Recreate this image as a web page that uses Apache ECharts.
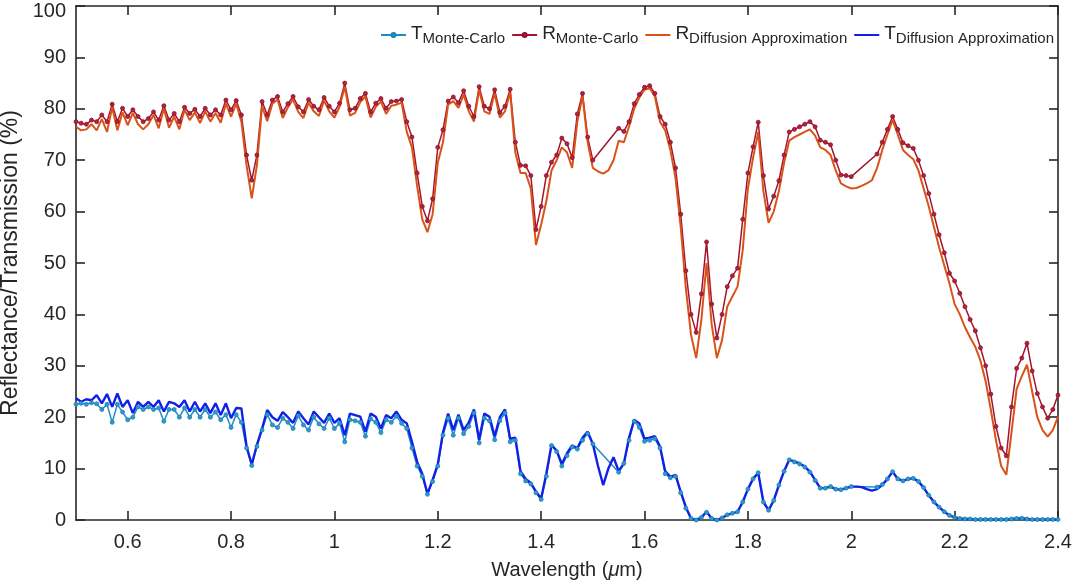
<!DOCTYPE html>
<html>
<head>
<meta charset="utf-8">
<script src="https://cdn.jsdelivr.net/npm/echarts@6/dist/echarts.min.js"></script>
<style>
html,body{margin:0;padding:0;background:#fff;}
#chart{width:1078px;height:588px;}
</style>
</head>
<body>
<div id="chart"></div>
<script>
// Wavelength grid (µm)
const wavelength = [
0.50,0.51,0.52,0.53,0.54,0.55,0.56,0.57,0.58,0.59,
0.60,0.61,0.62,0.63,0.64,0.65,0.66,0.67,0.68,0.69,
0.70,0.71,0.72,0.73,0.74,0.75,0.76,0.77,0.78,0.79,
0.80,0.81,0.82,0.83,0.84,0.85,0.86,0.87,0.88,0.89,
0.90,0.91,0.92,0.93,0.94,0.95,0.96,0.97,0.98,0.99,
1.00,1.01,1.02,1.03,1.04,1.05,1.06,1.07,1.08,1.09,
1.10,1.11,1.12,1.13,1.14,1.15,1.16,1.17,1.18,1.19,
1.20,1.21,1.22,1.23,1.24,1.25,1.26,1.27,1.28,1.29,
1.30,1.31,1.32,1.33,1.34,1.35,1.36,1.37,1.38,1.39,
1.40,1.41,1.42,1.43,1.44,1.45,1.46,1.47,1.48,1.49,
1.50,1.51,1.52,1.53,1.54,1.55,1.56,1.57,1.58,1.59,
1.60,1.61,1.62,1.63,1.64,1.65,1.66,1.67,1.68,1.69,
1.70,1.71,1.72,1.73,1.74,1.75,1.76,1.77,1.78,1.79,
1.80,1.81,1.82,1.83,1.84,1.85,1.86,1.87,1.88,1.89,
1.90,1.91,1.92,1.93,1.94,1.95,1.96,1.97,1.98,1.99,
2.00,2.01,2.02,2.03,2.04,2.05,2.06,2.07,2.08,2.09,
2.10,2.11,2.12,2.13,2.14,2.15,2.16,2.17,2.18,2.19,
2.20,2.21,2.22,2.23,2.24,2.25,2.26,2.27,2.28,2.29,
2.30,2.31,2.32,2.33,2.34,2.35,2.36,2.37,2.38,2.39,
2.40];

// Transmission, Monte-Carlo (%)
const tMonteCarlo = [
22.5,22.7,22.5,22.8,22.6,21.5,22.5,19.0,22.5,21.0,
19.5,20.0,22.0,21.5,22.0,21.5,21.8,19.2,21.5,21.5,
20.0,21.8,20.0,21.5,20.0,21.5,20.0,21.0,19.5,20.5,
18.0,20.5,19.0,14.0,10.6,14.3,17.5,20.5,18.5,18.0,
19.8,19.0,17.8,20.3,18.5,17.5,20.0,18.7,17.8,19.8,
17.8,18.8,15.2,19.5,19.3,19.0,16.3,19.7,19.0,17.0,
19.5,19.0,20.2,18.8,17.8,14.0,10.5,8.5,5.0,7.5,
10.5,16.5,19.8,16.5,19.8,16.8,18.2,20.8,15.0,19.8,
19.3,15.6,19.3,20.8,15.2,15.5,9.0,7.6,7.0,5.3,
4.0,8.5,14.5,13.3,10.5,12.5,14.2,13.8,15.5,16.8,
14.8,null,null,null,null,9.3,11.0,15.5,19.2,18.0,
15.3,15.5,15.8,14.0,9.0,8.2,8.5,5.3,2.3,0.3,
0.0,0.5,1.5,0.3,0.0,0.4,1.0,1.3,1.6,3.5,
6.0,8.0,9.2,3.5,1.9,3.8,6.8,9.5,11.7,11.3,
10.9,10.3,9.3,7.7,6.2,6.2,6.5,6.0,5.9,6.2,
6.5,null,null,null,null,6.4,6.9,8.0,9.4,8.0,
7.6,8.0,8.1,7.5,6.3,4.8,3.5,2.5,1.6,0.9,
0.5,0.3,0.2,0.2,0.1,0.1,0.1,0.1,0.1,0.1,
0.1,0.2,0.3,0.35,0.2,0.1,0.1,0.1,0.1,0.1,
0.1];

// Reflectance, Monte-Carlo (%)
const rMonteCarlo = [
77.5,77.2,77.0,77.8,77.5,78.8,77.5,80.9,77.5,80.1,
78.5,79.8,78.5,77.5,78.1,79.4,77.8,80.6,77.8,79.1,
77.5,80.3,79.1,79.9,78.5,80.1,78.8,79.8,78.8,81.7,
79.8,81.6,78.8,71.0,66.1,71.0,81.4,78.8,81.7,82.4,
79.4,81.0,82.4,80.4,79.4,81.8,80.5,79.8,82.2,80.5,
79.4,81.1,85.0,79.8,80.1,82.0,83.0,79.4,81.1,82.0,
80.1,81.4,81.5,81.8,77.5,74.5,67.5,61.0,58.2,62.5,
72.5,75.9,81.5,82.3,81.2,83.5,80.5,78.5,84.3,80.5,
80.0,83.7,79.3,80.5,83.8,73.5,69.0,68.9,67.0,56.5,
61.0,67.0,69.6,71.0,74.3,73.2,70.5,79.0,83.0,74.5,
70.0,null,null,null,null,76.2,75.6,77.5,81.0,82.8,
84.2,84.5,83.0,78.5,77.0,73.5,68.5,59.5,48.5,40.0,
36.5,44.0,54.1,42.0,35.4,40.0,45.4,47.5,49.0,58.5,
67.5,72.6,77.4,67.0,60.5,63.0,66.0,71.0,75.5,76.0,
76.5,77.0,77.5,76.5,73.9,73.5,73.0,70.0,67.1,67.0,
66.8,null,null,null,null,71.2,73.5,76.0,78.5,76.0,
73.4,72.8,72.3,70.0,67.0,63.5,59.5,55.5,52.0,48.0,
46.5,44.1,41.5,39.0,36.8,33.5,30.0,24.5,18.2,14.0,
12.5,22.0,29.5,31.5,34.4,29.0,24.6,22.0,19.8,21.5,
24.3];

// Reflectance, diffusion approximation (%)
const rDiffusion = [
76.5,75.8,76.0,77.0,75.8,78.0,75.5,80.3,75.8,79.3,
76.8,79.2,77.0,76.0,77.0,78.8,76.2,80.0,76.3,78.5,
76.0,79.8,77.8,79.3,77.2,79.5,77.5,79.2,77.3,81.0,
78.5,81.0,77.5,69.0,62.6,69.0,80.5,77.6,81.0,81.8,
78.2,80.3,81.8,79.4,78.2,81.2,79.5,78.6,81.6,79.5,
78.3,80.4,84.3,78.7,79.2,81.3,82.4,78.3,80.4,81.4,
79.0,80.6,80.8,81.2,75.5,72.5,65.0,58.5,56.0,59.5,
69.5,73.5,80.8,81.5,80.2,82.8,79.5,77.5,83.7,79.5,
79.0,83.0,78.3,79.5,83.2,71.5,67.5,67.5,64.5,53.5,
57.5,62.0,68.0,70.0,72.5,71.5,68.5,77.5,82.5,73.5,
68.5,67.8,67.4,68.0,70.0,73.8,73.5,76.5,80.0,82.2,
83.7,84.0,82.4,77.5,75.8,72.0,66.5,57.0,45.0,36.0,
31.5,39.0,50.0,38.0,31.5,35.0,41.5,43.5,45.4,52.5,
64.5,70.5,75.5,64.0,57.8,60.0,64.0,69.5,73.8,74.5,
75.0,75.5,76.0,74.8,72.5,72.0,71.0,68.0,65.5,64.9,
64.5,64.6,65.0,65.5,66.1,68.5,72.0,75.0,77.8,75.0,
72.0,71.0,70.2,68.0,64.5,61.0,57.0,53.0,49.5,46.0,
42.0,40.0,37.5,35.5,33.7,31.0,27.0,21.5,15.5,10.5,
8.8,17.0,25.5,28.0,30.2,25.0,20.0,17.5,16.2,17.5,
20.1];

// Transmission, diffusion approximation (%)
const tDiffusion = [
23.7,23.0,23.5,23.3,24.3,22.7,24.5,22.0,24.6,22.0,
23.3,20.8,23.0,22.0,23.0,22.0,23.3,21.1,23.0,22.7,
22.0,23.3,21.1,23.0,21.1,22.7,20.8,22.7,20.4,22.7,
19.8,21.8,21.7,14.3,10.8,14.6,17.8,21.4,20.0,19.3,
21.0,20.0,18.9,21.1,19.8,18.6,21.1,20.0,18.9,20.7,
18.9,19.8,16.5,20.7,20.4,20.1,17.2,20.7,20.1,17.8,
20.4,19.8,21.1,19.5,18.8,15.2,11.3,9.0,5.1,7.8,
10.8,17.0,20.7,17.5,20.5,17.5,19.0,21.5,15.6,20.7,
20.1,16.3,20.0,21.5,15.8,16.0,9.5,8.0,7.2,5.5,
4.2,9.0,14.6,13.5,10.9,13.0,14.5,14.0,16.0,17.2,
14.8,10.5,6.8,10.0,12.2,9.5,11.0,16.0,19.5,18.8,
15.8,16.0,16.3,14.3,9.5,8.4,8.8,5.5,2.5,0.3,
0.0,0.5,1.6,0.3,0.0,0.4,1.0,1.3,1.6,3.5,
6.0,8.0,9.2,3.5,1.9,3.8,6.8,9.5,11.7,11.4,
11.0,10.4,9.4,7.8,6.2,6.2,6.5,6.0,5.9,6.2,
6.5,6.5,6.4,6.0,5.7,6.0,6.8,8.0,9.4,8.0,
7.6,8.0,8.1,7.5,6.3,4.8,3.5,2.5,1.6,0.9,
0.5,0.3,0.2,0.2,0.1,0.1,0.1,0.1,0.1,0.1,
0.1,0.2,0.3,0.35,0.2,0.1,0.1,0.1,0.1,0.1,
0.1];

const xTickValues = [0.6,0.8,1.0,1.2,1.4,1.6,1.8,2.0,2.2,2.4];

const seriesNames = ['T_Monte-Carlo','R_Monte-Carlo','R_Diffusion Approximation','T_Diffusion Approximation'];

const axisColor = '#262626';
const fontFamily = '"Liberation Sans", Arial, Helvetica, sans-serif';

function pairs(arr){ return wavelength.map((w,i)=>[w, arr[i]]); }

const chart = echarts.init(document.getElementById('chart'), null, {renderer:'canvas'});

const commonX = {
  type:'value', min:0.5, max:2.4,
  splitLine:{show:false},
  axisLine:{show:true, onZero:false, lineStyle:{color:axisColor, width:1.6}},
  axisTick:{show:true, inside:true, length:9, customValues:xTickValues, lineStyle:{color:axisColor, width:1.6}}
};
const commonY = {
  type:'value', min:0, max:100, interval:10,
  splitLine:{show:false},
  axisLine:{show:true, onZero:false, lineStyle:{color:axisColor, width:1.6}},
  axisTick:{show:true, inside:true, length:9, lineStyle:{color:axisColor, width:1.6}}
};

const option = {
  animation:false,
  backgroundColor:'#fff',
  textStyle:{fontFamily:fontFamily},
  grid:{left:76, right:20, top:6, bottom:68, containLabel:false, outerBoundsMode:'none'},
  legend:{
    top:17, right:19,
    itemWidth:25, itemHeight:5, itemGap:6,
    data:[
      {name:seriesNames[0]},
      {name:seriesNames[1]},
      {name:seriesNames[2], itemStyle:{opacity:0}},
      {name:seriesNames[3], itemStyle:{opacity:0}}
    ],
    formatter:function(name){
      const p = name.split('_');
      return '{m|' + p[0] + '}{s|' + p[1] + '}';
    },
    textStyle:{
      color:axisColor,
      rich:{
        m:{fontSize:19, lineHeight:22, verticalAlign:'top', fontFamily:fontFamily, color:axisColor},
        s:{fontSize:15, lineHeight:18, verticalAlign:'bottom', padding:[9,0,0,0], fontFamily:fontFamily, color:axisColor}
      }
    }
  },
  xAxis:[
    Object.assign({}, commonX, {
      position:'bottom',
      axisLabel:{customValues:xTickValues, fontSize:20, color:axisColor, margin:12, fontFamily:fontFamily,
        formatter:function(v){ return String(+(+v).toFixed(1)); }},
      name:'{n|Wavelength (}{i|μ}{n|m)}',
      nameLocation:'middle', nameGap:40,
      nameTextStyle:{rich:{
        n:{fontSize:20, color:axisColor, fontFamily:fontFamily},
        i:{fontSize:20, color:axisColor, fontStyle:'italic', fontFamily:fontFamily}
      }}
    }),
    Object.assign({}, commonX, {position:'top', axisLabel:{show:false}})
  ],
  yAxis:[
    Object.assign({}, commonY, {
      position:'left',
      axisLabel:{fontSize:20, color:axisColor, margin:10, fontFamily:fontFamily,
        formatter:function(v){ return v === 100 ? '{t|100}' : String(v); },
        rich:{t:{fontSize:20, color:axisColor, fontFamily:fontFamily, padding:[10,0,0,0]}}},
      name:'Reflectance/Transmission (%)',
      nameLocation:'middle', nameGap:44,
      nameTextStyle:{fontSize:23, color:axisColor, fontFamily:fontFamily}
    }),
    Object.assign({}, commonY, {position:'right', axisLabel:{show:false}})
  ],
  series:[
    {
      name:seriesNames[0], type:'line', data:pairs(tMonteCarlo),
      xAxisIndex:0, yAxisIndex:0, connectNulls:true,
      symbol:'circle', symbolSize:4, showSymbol:true,
      lineStyle:{color:'#1f8cc4', width:1.5},
      itemStyle:{color:'#2a9ccc', borderColor:'#1f7fb5', borderWidth:0.8}
    },
    {
      name:seriesNames[1], type:'line', data:pairs(rMonteCarlo),
      xAxisIndex:0, yAxisIndex:0, connectNulls:true,
      symbol:'circle', symbolSize:4, showSymbol:true,
      lineStyle:{color:'#a2142f', width:1.5},
      itemStyle:{color:'#b0243c', borderColor:'#8e1028', borderWidth:0.8}
    },
    {
      name:seriesNames[2], type:'line', data:pairs(rDiffusion),
      xAxisIndex:0, yAxisIndex:0,
      symbol:'none', showSymbol:false,
      lineStyle:{color:'#d95319', width:2},
      itemStyle:{color:'#d95319'}
    },
    {
      name:seriesNames[3], type:'line', data:pairs(tDiffusion),
      xAxisIndex:0, yAxisIndex:0,
      symbol:'none', showSymbol:false,
      lineStyle:{color:'#1020e8', width:2.4},
      itemStyle:{color:'#1020e8'}
    }
  ]
};
chart.setOption(option);
</script>
</body>
</html>
